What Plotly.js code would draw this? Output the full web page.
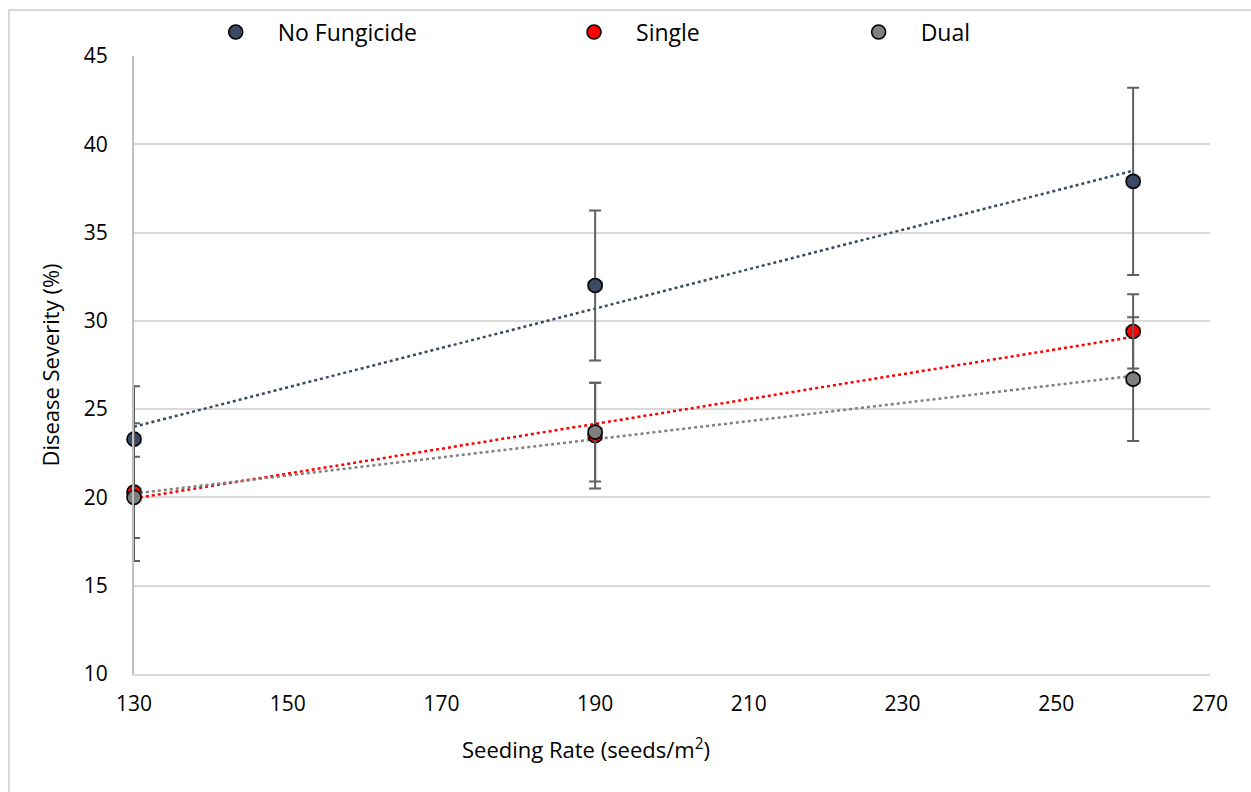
<!DOCTYPE html>
<html>
<head>
<meta charset="utf-8">
<script src="https://cdn.plot.ly/plotly-3.0.1.min.js"></script>
<style>
html,body{margin:0;padding:0;background:#fff;}
#chart{width:1251px;height:792px;}
</style>
</head>
<body>
<div id="chart"></div>
<script>
// Data
const seedingRate = [130, 190, 260];
const noFungicide = [23.3, 32.0, 37.9];
const noFungicideErr = [3.0, 4.25, 5.3];
const single = [20.3, 23.5, 29.4];
const singleErr = [3.9, 3.0, 2.1];
const dual = [20.0, 23.7, 26.7];
const dualErr = [2.3, 2.8, 3.5];
const seriesNames = ["No Fungicide", "Single", "Dual"];
const xTicks = [130, 150, 170, 190, 210, 230, 250, 270];
const yTicks = [10, 15, 20, 25, 30, 35, 40, 45];
const xTitle = 'Seeding Rate (seeds/m<sup>2</sup>)';
const yTitle = 'Disease Severity (%)';

const colors = ["#3B4A63", "#FF0000", "#808080"];
const FONT = "'Open Sans', Lato, sans-serif";

function linFit(xs, ys) {
  const n = xs.length;
  const mx = xs.reduce((a,b)=>a+b,0)/n;
  const my = ys.reduce((a,b)=>a+b,0)/n;
  let sxy = 0, sxx = 0;
  for (let i=0;i<n;i++){ sxy += (xs[i]-mx)*(ys[i]-my); sxx += (xs[i]-mx)*(xs[i]-mx); }
  const b = sxy/sxx, a = my - b*mx;
  const x0 = Math.min(...xs), x1 = Math.max(...xs);
  return {x:[x0,x1], y:[a+b*x0, a+b*x1]};
}

const ys = [noFungicide, single, dual];
const errs = [noFungicideErr, singleErr, dualErr];
const traces = [];
ys.forEach((y,i)=>{
  const f = linFit(seedingRate, y);
  traces.push({
    x: f.x, y: f.y, mode: 'lines', type: 'scatter',
    line: {color: colors[i], width: 2.5, dash: 'dot'},
    showlegend: false, hoverinfo: 'skip', cliponaxis: false
  });
});
const legendIds = ['legend', 'legend2', 'legend3'];
ys.forEach((y,i)=>{
  traces.push({
    x: seedingRate, y: y, mode: 'markers', type: 'scatter',
    name: seriesNames[i], legend: legendIds[i], cliponaxis: false,
    marker: {color: colors[i], size: 14, line: {color: '#000', width: 1.6}},
    error_y: {type: 'data', array: errs[i], visible: true, color: '#606060', thickness: 2, width: 6},
    error_x: {type: 'constant', value: 0.9, visible: true, color: '#909090', thickness: 1.2, width: 5}
  });
});

const legendBase = {
  orientation: 'h', yanchor: 'middle', y: 1.037, xanchor: 'left',
  font: {family: FONT, size: 23, color: '#000'}, bgcolor: 'rgba(0,0,0,0)',
  itemwidth: 74, borderwidth: 0
};

const layout = {
  width: 1251, height: 792,
  margin: {l: 134, r: 41, t: 55, b: 118},
  paper_bgcolor: '#fff', plot_bgcolor: '#fff',
  font: {family: FONT, size: 21, color: '#000'},
  xaxis: {
    range: [130, 270], tickvals: xTicks, ticktext: xTicks.map(String),
    showgrid: false, zeroline: false, showline: true, linecolor: '#D9D9D9', linewidth: 2,
    ticks: '', ticklabelstandoff: 10, tickfont: {family: FONT, size: 21, color: '#000'}
  },
  yaxis: {
    range: [10, 45], tickvals: yTicks, ticktext: yTicks.map(String),
    showgrid: true, gridcolor: '#D9D9D9', gridwidth: 2,
    zeroline: false, showline: true, linecolor: '#BFBFBF', linewidth: 2,
    ticks: '', ticklabelstandoff: 20, tickfont: {family: FONT, size: 21, color: '#000'},
    title: {text: yTitle, font: {family: FONT, size: 22, color: '#000'}, standoff: 18}
  },
  annotations: [{
    text: xTitle, xref: 'paper', yref: 'paper',
    x: (586 - 134) / 1076, y: (674 - 749) / 619, xanchor: 'center', yanchor: 'middle',
    showarrow: false, font: {family: FONT, size: 22, color: '#000'}
  }],
  legend: Object.assign({}, legendBase, {x: 0.0555}),
  legend2: Object.assign({}, legendBase, {x: 0.3885}),
  legend3: Object.assign({}, legendBase, {x: 0.653}),
  shapes: [{
    type: 'rect', xref: 'paper', yref: 'paper',
    x0: -125/1076, x1: 1.2, y0: -0.3, y1: (674-9)/619,
    line: {color: '#D9D9D9', width: 2}, fillcolor: 'rgba(0,0,0,0)', layer: 'below'
  }],
  showlegend: true
};

Plotly.newPlot('chart', traces, layout, {staticPlot: true, displayModeBar: false});
</script>
</body>
</html>
